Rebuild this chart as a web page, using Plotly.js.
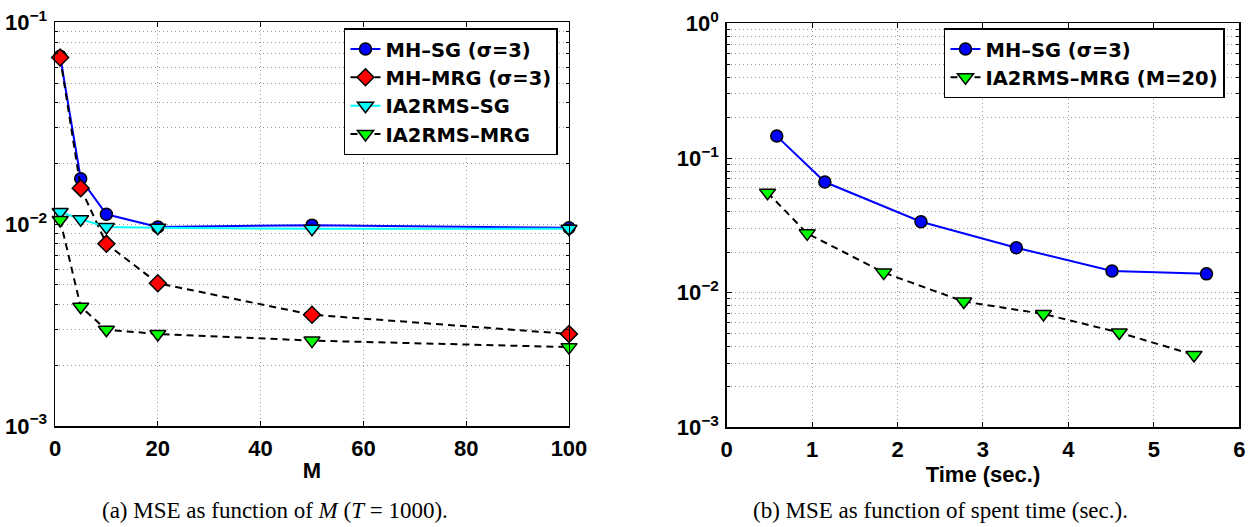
<!DOCTYPE html>
<html>
<head>
<meta charset="utf-8">
<script src="https://cdn.plot.ly/plotly-3.0.1.min.js"></script>
<style>html,body{margin:0;padding:0;background:#fff;}#chart{width:1249px;height:527px;}</style>
</head>
<body>
<div id="chart"></div>
<script>
// ---- Data ----
const M = [1, 5, 10, 20, 50, 100];
const mseMHSG   = [0.068, 0.0168, 0.0112, 0.0097, 0.0099, 0.0096];
const mseMHMRG  = [0.067, 0.0151, 0.0080, 0.0051, 0.00356, 0.00286];
const mseIASG   = [0.0115, 0.0106, 0.0097, 0.0096, 0.0095, 0.0095];
const mseIAMRG  = [0.0105, 0.0039, 0.0030, 0.00286, 0.00265, 0.00246];

const timeMHSG  = [0.586, 1.149, 2.274, 3.39, 4.51, 5.616];
const mseTimeMHSG = [0.1457, 0.0664, 0.0337, 0.0216, 0.0145, 0.0138];
const timeIAMRG = [0.478, 0.942, 1.838, 2.775, 3.708, 4.595, 5.47];
const mseTimeIAMRG = [0.0553, 0.0276, 0.0141, 0.0086, 0.00695, 0.00506, 0.00345];

const namesLeft = ['MH\u2013SG (\u03c3=3)', 'MH\u2013MRG (\u03c3=3)', 'IA2RMS\u2013SG', 'IA2RMS\u2013MRG'];
const namesRight = ['MH\u2013SG (\u03c3=3)', 'IA2RMS\u2013MRG (M=20)'];
const xTicksLeft = [0, 20, 40, 60, 80, 100];
const xTicksRight = [0, 1, 2, 3, 4, 5, 6];
const yTickValsLeft = [0.001, 0.01, 0.1];
const yTickTextLeft = ['10<sup>\u22123</sup>', '10<sup>\u22122</sup>', '10<sup>\u22121</sup>'];
const yTickValsRight = [0.001, 0.01, 0.1, 1];
const yTickTextRight = ['10<sup>\u22123</sup>', '10<sup>\u22122</sup>', '10<sup>\u22121</sup>', '10<sup>0</sup>'];
const captionA = '(a) MSE as function of <i>M</i> (<i>T</i> = 1000).';
const captionB = '(b) MSE as function of spent time (sec.).';

function minorVals(lo, hi) {
  const v = [];
  for (let e = lo; e < hi; e++) for (let k = 2; k <= 9; k++) v.push(k * Math.pow(10, e));
  return v;
}

const FONT = 'Liberation Sans, Arial, sans-serif';
const dash = '7px,5px';
const mline = {color: 'black', width: 1.5};

const traces = [
  {x: M, y: mseMHSG, name: namesLeft[0], xaxis: 'x', yaxis: 'y', legend: 'legend', legendgroup: 'a',
   mode: 'lines+markers', line: {color: '#0000ff', width: 2},
   marker: {symbol: 'circle', size: 12, color: '#0000ff', line: mline}, cliponaxis: false},
  {x: M, y: mseMHMRG, name: namesLeft[1], xaxis: 'x', yaxis: 'y', legend: 'legend', legendgroup: 'b',
   mode: 'lines+markers', line: {color: 'black', width: 2, dash: dash},
   marker: {symbol: 'diamond', size: 13, color: '#ff0000', line: mline}, cliponaxis: false},
  {x: M, y: mseIASG, name: namesLeft[2], xaxis: 'x', yaxis: 'y', legend: 'legend', legendgroup: 'c',
   mode: 'lines+markers', line: {color: '#00ffff', width: 2},
   marker: {symbol: 'triangle-down', size: 14, color: '#00ffff', line: mline}, cliponaxis: false},
  {x: M, y: mseIAMRG, name: namesLeft[3], xaxis: 'x', yaxis: 'y', legend: 'legend', legendgroup: 'd',
   mode: 'lines+markers', line: {color: 'black', width: 2, dash: dash},
   marker: {symbol: 'triangle-down', size: 14, color: '#00ff00', line: mline}, cliponaxis: false},
  {x: timeMHSG, y: mseTimeMHSG, name: namesRight[0], xaxis: 'x2', yaxis: 'y2', legend: 'legend2', legendgroup: 'e',
   mode: 'lines+markers', line: {color: '#0000ff', width: 2},
   marker: {symbol: 'circle', size: 12, color: '#0000ff', line: mline}, cliponaxis: false},
  {x: timeIAMRG, y: mseTimeIAMRG, name: namesRight[1], xaxis: 'x2', yaxis: 'y2', legend: 'legend2', legendgroup: 'f',
   mode: 'lines+markers', line: {color: 'black', width: 2, dash: dash},
   marker: {symbol: 'triangle-down', size: 14, color: '#00ff00', line: mline}, cliponaxis: false}
];

const tickFont = {family: FONT, size: 22, color: 'black', weight: 700};
const gridCol = '#9a9a9a';
const gdash = '1px,3px';
function xAxis(domain, range, tv, anchor, title) {
  return {domain: domain, range: range, anchor: anchor, tickvals: tv, ticktext: tv.map(String),
    showline: true, linecolor: 'black', linewidth: 1.5, mirror: 'ticks',
    ticks: 'inside', ticklen: 5, tickwidth: 1, tickcolor: 'black',
    showgrid: true, gridcolor: gridCol, griddash: gdash, gridwidth: 1, zeroline: false,
    tickfont: tickFont, ticklabelstandoff: 2,
    title: {text: title, font: {family: FONT, size: 22, color: 'black', weight: 700}, standoff: 2}};
}
function yAxis(domain, range, tv, tt, anchor, lo, hi) {
  return {domain: domain, type: 'log', range: range, anchor: anchor, tickmode: 'array', tickvals: tv, ticktext: tt,
    showline: true, linecolor: 'black', linewidth: 1.5, mirror: 'ticks',
    ticks: 'inside', ticklen: 5, tickwidth: 1, tickcolor: 'black',
    showgrid: true, gridcolor: gridCol, griddash: gdash, gridwidth: 1, zeroline: false,
    tickfont: tickFont, ticklabelstandoff: 2,
    minor: {tickmode: 'array', tickvals: minorVals(lo, hi), ticks: 'inside', ticklen: 3, tickcolor: 'black',
      showgrid: true, gridcolor: gridCol, griddash: gdash, gridwidth: 1}};
}

const legFont = {family: 'DejaVu Sans, Liberation Sans, sans-serif', size: 19.5, color: 'black', weight: 700};
const capFont = {family: 'Liberation Serif, serif', size: 23, color: 'black'};
const layout = {
  width: 1249, height: 527,
  margin: {l: 0, r: 0, t: 0, b: 0},
  paper_bgcolor: 'white', plot_bgcolor: 'white',
  showlegend: true,
  xaxis: xAxis([0.04404, 0.45556], [0, 100], xTicksLeft, 'y', 'M'),
  yaxis: yAxis([0.19165, 0.95731], [-3, -1], yTickValsLeft, yTickTextLeft, 'x', -3, -1),
  xaxis2: xAxis([0.58182, 0.99223], [0, 6], xTicksRight, 'y2', 'Time (sec.)'),
  yaxis2: yAxis([0.18918, 0.95541], [-3, 0], yTickValsRight, yTickTextRight, 'x2', -3, 0),
  legend: {x: 0.27542, y: 0.9463, xanchor: 'left', yanchor: 'top', bgcolor: 'white',
    bordercolor: 'black', borderwidth: 1.5, font: legFont, tracegroupgap: 0, itemclick: false},
  legend2: {x: 0.7558, y: 0.9463, xanchor: 'left', yanchor: 'top', bgcolor: 'white',
    bordercolor: 'black', borderwidth: 1.5, font: legFont, tracegroupgap: 0, itemclick: false},
  annotations: [
    {text: captionA, xref: 'paper', yref: 'paper', x: 275 / 1249, y: 1 - 510 / 527, xanchor: 'center', yanchor: 'middle',
      showarrow: false, font: capFont},
    {text: captionB, xref: 'paper', yref: 'paper', x: 940 / 1249, y: 1 - 510 / 527, xanchor: 'center', yanchor: 'middle',
      showarrow: false, font: capFont}
  ]
};

Plotly.newPlot('chart', traces, layout, {staticPlot: true, displayModeBar: false});
</script>
</body>
</html>
